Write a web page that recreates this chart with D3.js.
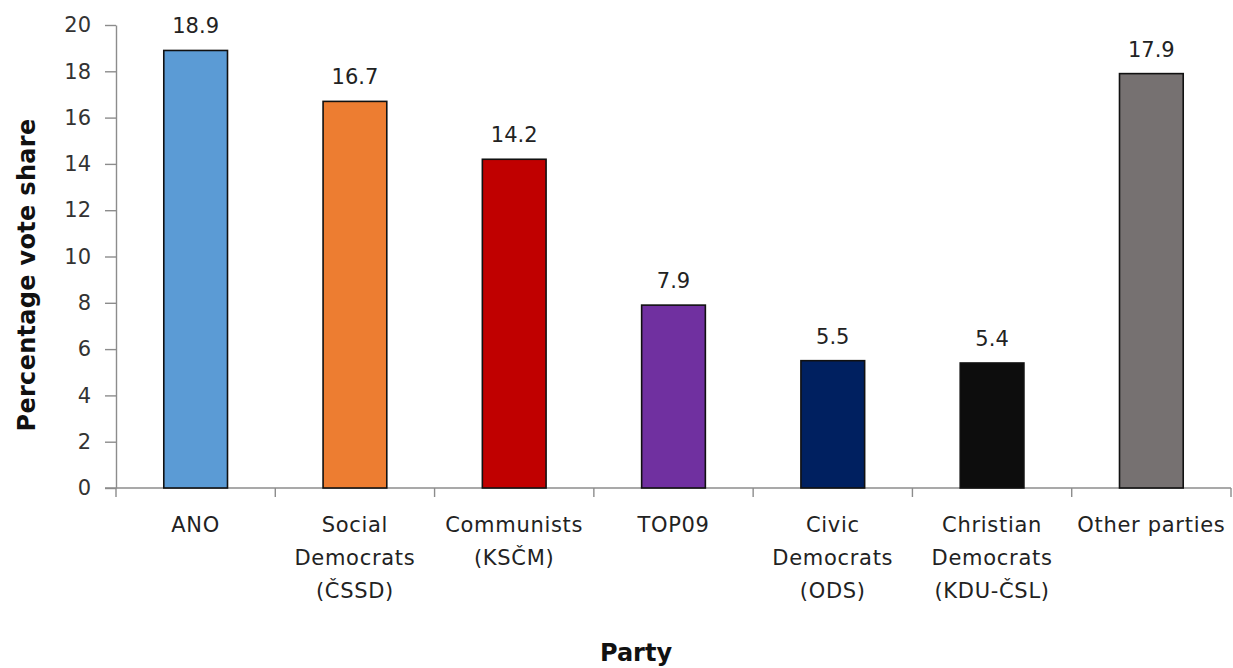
<!DOCTYPE html>
<html><head><meta charset="utf-8">
<script src="https://cdn.jsdelivr.net/npm/d3@7"></script>
<style>body{margin:0;background:#fff}svg{display:block}</style>
</head><body>
<script>
const categories = [["ANO"],["Social","Democrats","(ČSSD)"],["Communists","(KSČM)"],["TOP09"],["Civic","Democrats","(ODS)"],["Christian","Democrats","(KDU-ČSL)"],["Other parties"]];
const values = [18.9,16.7,14.2,7.9,5.5,5.4,17.9];
const colors = ["#5B9BD5","#ED7D31","#C00000","#7030A0","#002060","#0D0D0D","#767171"];
const yTicks = [0,2,4,6,8,10,12,14,16,18,20];

const W=1233,H=668;
const svg=d3.select("body").append("svg").attr("width",W).attr("height",H);
const mLeft=116,mRight=1231,mTop=25,mBottom=488;
const font="'DejaVu Sans', Verdana, sans-serif";
const x=d3.scaleBand().domain(d3.range(values.length)).range([mLeft,mRight]).paddingInner(0.6).paddingOuter(0.3);
const y=d3.scaleLinear().domain([0,20]).range([mBottom,mTop]);

// y axis
const ya=svg.append("g").attr("transform",`translate(${mLeft},0)`)
 .call(d3.axisLeft(y).tickValues(yTicks).tickSize(11).tickPadding(14).tickSizeOuter(0));
ya.select(".domain").attr("stroke","#8c8c8c").attr("stroke-width",1.4);
ya.selectAll(".tick line").attr("stroke","#8c8c8c").attr("stroke-width",1.4);
ya.selectAll("text").attr("font-family",font).attr("font-size",21).attr("fill","#333");

// x axis line and band ticks
const xa=svg.append("g");
xa.append("line").attr("x1",mLeft-11).attr("x2",mRight).attr("y1",mBottom).attr("y2",mBottom).attr("stroke","#8c8c8c").attr("stroke-width",1.4);
const bounds=d3.range(values.length+1).map(i=>mLeft+i*x.step());
xa.selectAll(".xt").data(bounds).join("line").attr("x1",d=>d).attr("x2",d=>d).attr("y1",mBottom).attr("y2",mBottom+9).attr("stroke","#8c8c8c").attr("stroke-width",1.4);

// bars
svg.selectAll(".bar").data(values).join("rect")
 .attr("x",(d,i)=>x(i)).attr("width",x.bandwidth())
 .attr("y",d=>y(d)).attr("height",d=>mBottom-y(d))
 .attr("fill",(d,i)=>colors[i]).attr("stroke","#111").attr("stroke-width",1.6);

// value labels
svg.selectAll(".val").data(values).join("text")
 .attr("x",(d,i)=>x(i)+x.bandwidth()/2).attr("y",d=>y(d)-17)
 .attr("text-anchor","middle").attr("font-family",font).attr("font-size",21).attr("fill","#222")
 .text(d=>d.toFixed(1));

// category labels
categories.forEach((lines,i)=>{
  const t=svg.append("text").attr("text-anchor","middle").attr("font-family",font).attr("font-size",21)
    .attr("letter-spacing",0.7).attr("fill","#222");
  lines.forEach((l,j)=>t.append("tspan").attr("x",x(i)+x.bandwidth()/2).attr("y",532+j*33).text(l));
});

// axis titles
svg.append("text").attr("transform","translate(35,275) rotate(-90)").attr("text-anchor","middle")
 .attr("font-family",font).attr("font-weight","bold").attr("font-size",24).attr("letter-spacing",0.3).attr("fill","#111").text("Percentage vote share");
svg.append("text").attr("x",636).attr("y",661).attr("text-anchor","middle")
 .attr("font-family",font).attr("font-weight","bold").attr("font-size",24).attr("fill","#111").text("Party");
</script>
</body></html>
